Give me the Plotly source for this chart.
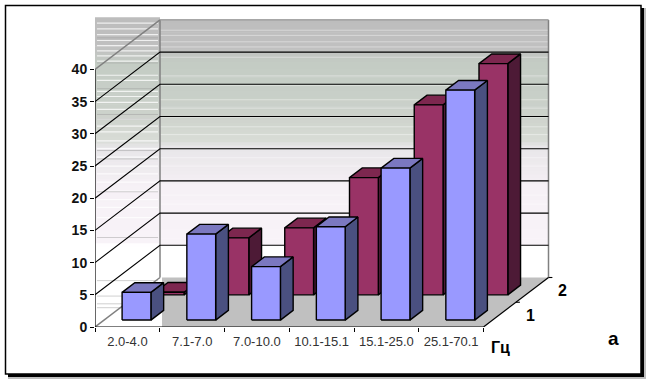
import plotly.graph_objects as go

categories = ["2.0-4.0", "7.1-7.0", "7.0-10.0", "10.1-15.1", "15.1-25.0", "25.1-70.1"]
series_front = [4.3, 13.35, 8.3, 14.5, 23.6, 35.7]
series_back = [0.4, 8.85, 10.4, 18.2, 29.5, 35.9]
y_ticks = [0, 5, 10, 15, 20, 25, 30, 35, 40]
depth_labels = ["1", "2"]
wall_stops = [(40, (189, 189, 189)), (35.5, (192, 192, 192)), (33, (196, 204, 196)), (28, (200, 207, 200)),
              (25, (205, 210, 203)), (21, (216, 220, 214)), (20, (232, 230, 233)), (16, (240, 236, 240)),
              (14, (246, 241, 246)), (5, (248, 243, 248)), (4.8, (255, 255, 255)), (0, (255, 255, 255))]
stripes_white = [39.5, 38.6, 37.7, 36.8, 36, 35.2, 34.4, 33.6, 31.4, 30.6, 28.9, 28.1, 27.2, 26.1, 24.6,
                 23.5, 22.6, 21.2, 20, 18.7, 17.3, 16.1, 14.8, 13.4, 12.1, 10.9, 9.3]
stripes_grey = [44.9, 41.0, 37.0, 33.0, 32.3, 27.4, 26.1, 21.0, 13.9, 7.2, 4.8, 3.6, 3.0]
stripes_back = [38.4, 37.6, 36.6, 35.8, 34.2, 31.3, 29.8, 27.6, 26.3, 24.9, 23.4, 22.2, 18.6, 17.3, 12.8, 11.4]

PX_X, PX_Y = 64.75, 6.44
L, B, PW, PH = 95, 54, 465, 312
DX, DY = 65.0 / PX_X, 49.5 / PX_Y
BAR_GAP, BAR_W = 0.278, 0.445
BAR_D = 0.196
SERIES_D = [0.14, 0.65]
FRONT = ["#9999ff", "#993366"]
TOP = ["#7b78c0", "#7d274f"]
SIDE = ["#4a5080", "#4d1a36"]


def proj(c, d, v):
    return c + d * DX, v + d * DY


def px(x, y):
    return (x - L) / PW, (327 - y) / PH


fig = go.Figure()


def poly(points, fill=None, line="black", width=1.4):
    xs, ys = zip(*(proj(*p) for p in points))
    fig.add_trace(go.Scatter(x=list(xs) + [xs[0]] if fill else xs, y=list(ys) + [ys[0]] if fill else ys,
                             mode="lines", fill="toself" if fill else None, fillcolor=fill,
                             line=dict(color=line, width=width), hoverinfo="skip", showlegend=False))


shapes = []


def paper_rect(x0, y0, x1, y1, fill, line=None, lw=0):
    a, b = px(x0, y1)
    c, d = px(x1, y0)
    shapes.append(dict(type="rect", xref="paper", yref="paper", x0=a, y0=b, x1=c, y1=d, fillcolor=fill,
                       line=dict(color=line or fill, width=lw), layer="below"))


paper_rect(8, 8, 646, 379, "#bdbdbd")
paper_rect(8, 8, 644, 377, "#000000")
paper_rect(5.5, 5.5, 641, 374, "#ffffff", "#000000", 1.5)


def wall_color(v):
    for (v0, c0), (v1, c1) in zip(wall_stops, wall_stops[1:]):
        if v1 <= v <= v0:
            t = (v0 - v) / (v0 - v1)
            return "rgb(%d,%d,%d)" % tuple(round(a + (b - a) * t) for a, b in zip(c0, c1))
    return "rgb(255,255,255)"


# back wall gradient
v = 0.0
while v < 40:
    top = proj(0, 1, v + 0.5)[1]
    base = proj(0, 1, v)[1]
    shapes.append(dict(type="rect", xref="x", yref="y", x0=DX, x1=6 + DX, y0=base, y1=top + 0.1,
                       fillcolor=wall_color(v), line=dict(width=0), layer="below"))
    v += 0.5
for s in stripes_back:
    shapes.append(dict(type="line", xref="x", yref="y", x0=DX, x1=6 + DX, y0=s + DY, y1=s + DY,
                       line=dict(color="rgba(255,255,255,0.4)", width=1), layer="below"))
# left wall gradient (same colour levels, drawn flat across the wall)
for level in [i * 0.5 for i in range(0, 96)]:
    y0, y1 = level, level + 0.6
    shade = wall_color(max(0, level - DY))
    shapes.append(dict(type="rect", xref="x", yref="y", x0=0, x1=DX, y0=y0, y1=y1,
                       fillcolor=shade, line=dict(width=0), layer="below"))
for s in stripes_white:
    shapes.append(dict(type="line", xref="x", yref="y", x0=0.03, x1=DX - 0.03, y0=s + 7.69, y1=s + 7.69,
                       line=dict(color="rgba(255,255,255,0.75)", width=1.2), layer="below"))
for s in stripes_grey:
    shapes.append(dict(type="line", xref="x", yref="y", x0=0.03, x1=DX - 0.03, y0=s, y1=s,
                       line=dict(color="rgba(150,150,150,0.45)", width=1), layer="below"))

# floor
poly([(1.035, 0, 0), (6, 0, 0), (6, 1, 0), (1.035 - DX, 1, 0)], fill="#c0c0c0", line="#c0c0c0", width=0)

# wall edges and grid
poly([(0, 0, 0), (0, 1, 0)], line="#808080", width=1.5)
poly([(0, 0, 40), (0, 1, 40)], line="#808080", width=1.5)
poly([(0, 1, 0), (0, 1, 40)], line="#808080", width=1.5)
poly([(6, 1, 0), (6, 1, 40)], line="#808080", width=1.5)
poly([(0, 1, 40), (6, 1, 40)], line="#9a9a9a", width=1.2)
for t in y_ticks[1:-1]:
    poly([(0, 0, t), (0, 1, t), (6, 1, t)], line="black", width=1.1)

# axes
poly([(0, 0, 0), (0, 0, 40)], width=1.2)
poly([(0, 0, 0), (6, 0, 0)], width=1.2)
poly([(6, 0, 0), (6, 1, 0)], width=1.2)
poly([(6, 0.5, 0), (6 + 0.06, 0.5, 0)], width=1.1)
poly([(6, 1, 0), (6 + 0.06, 1, 0)], width=1.1)

# bars, far series first
for si, values in [(1, series_back), (0, series_front)]:
    d0 = SERIES_D[si]
    d1 = d0 + BAR_D
    for i, val in enumerate(values):
        a = i + BAR_GAP
        b = a + BAR_W
        poly([(b, d0, 0), (b, d1, 0), (b, d1, val), (b, d0, val)], fill=SIDE[si])
        poly([(a, d0, val), (b, d0, val), (b, d1, val), (a, d1, val)], fill=TOP[si])
        poly([(a, d0, 0), (b, d0, 0), (b, d0, val), (a, d0, val)], fill=FRONT[si])

annotations = []
for lab, d in zip(depth_labels, [0.5, 1.0]):
    x, y = proj(6, d, 0)
    annotations.append(dict(x=x, y=y, xref="x", yref="y", text=lab, showarrow=False, xshift=14, yshift=-13,
                            xanchor="center", yanchor="middle",
                            font=dict(family="Liberation Sans", size=16, color="black", weight="bold")))
for text, xp, yp, size in [("Гц", 500.5, 347, 16), ("а", 613.5, 338, 19)]:
    a, b = px(xp, yp)
    annotations.append(dict(x=a, y=b, xref="paper", yref="paper", text=text, showarrow=False,
                            xanchor="center", yanchor="middle",
                            font=dict(family="Liberation Sans", size=size, color="black", weight="bold")))

fig.update_layout(
    width=648, height=381, autosize=False, showlegend=False,
    margin=dict(l=L, r=648 - L - PW, t=381 - B - PH, b=B, pad=0),
    paper_bgcolor="white", plot_bgcolor="rgba(0,0,0,0)",
    shapes=shapes, annotations=annotations,
    xaxis=dict(range=[0, PW / PX_X], showgrid=False, zeroline=False, showline=False,
               tickmode="array", tickvals=[i + 0.5 for i in range(6)], ticktext=categories, ticks="",
               tickfont=dict(family="Liberation Sans", size=13, color="#333333"), ticklabelstandoff=5,
               minor=dict(tickmode="array", tickvals=list(range(7)), ticks="outside", ticklen=4, tickcolor="black",
                          tickwidth=1, showgrid=False)),
    yaxis=dict(range=[0, PH / PX_Y], showgrid=False, zeroline=False, showline=False,
               tickmode="array", tickvals=y_ticks, ticktext=[str(t) for t in y_ticks], ticks="outside",
               ticklen=4, tickcolor="black", tickwidth=1,
               tickfont=dict(family="Liberation Sans", size=14, color="#111111", weight="bold")),
)

fig.write_html("out.html", config={"displayModeBar": False}, post_script="document.body.style.margin='0';")
